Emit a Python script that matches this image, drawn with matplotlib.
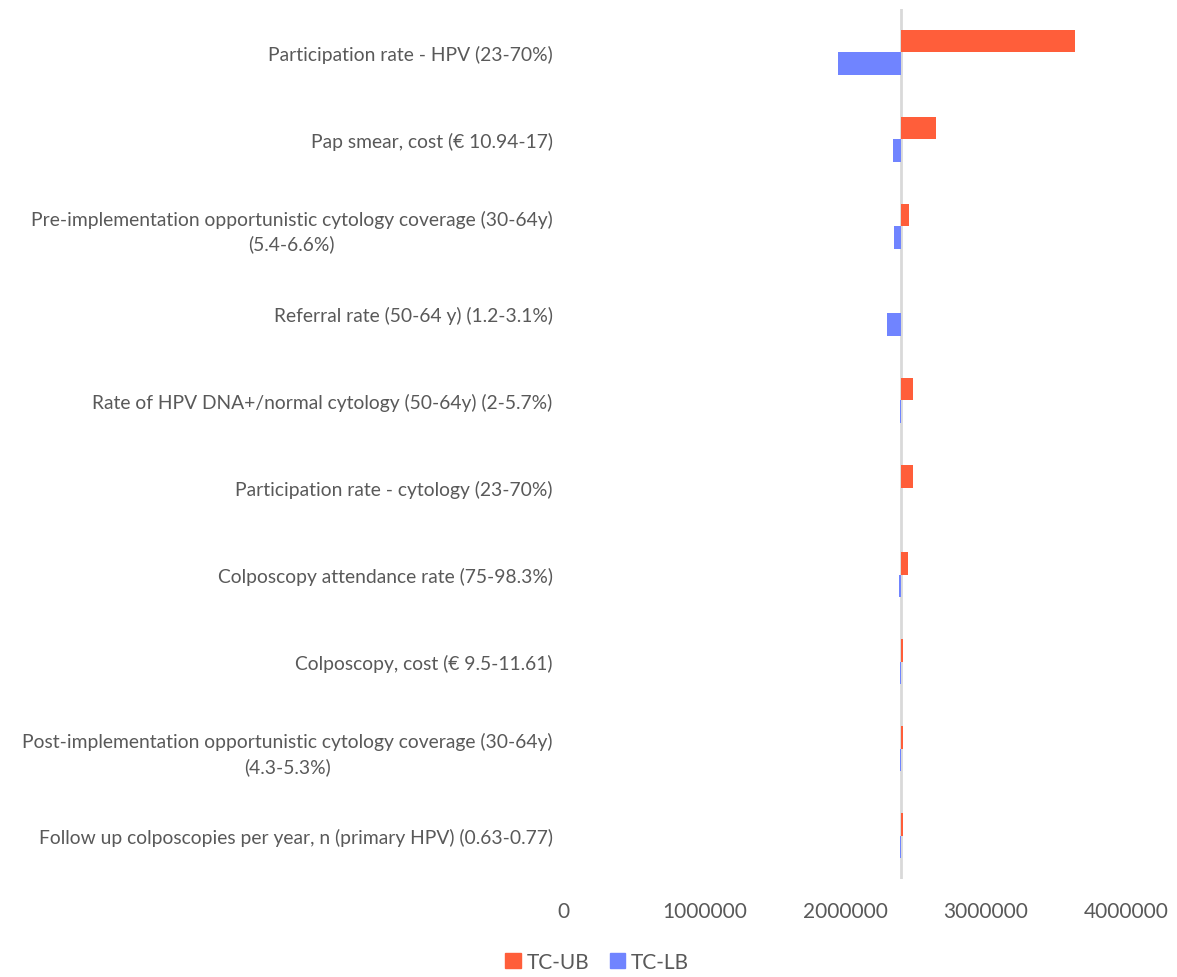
import matplotlib
matplotlib.use("Agg")
import matplotlib.pyplot as plt
import numpy as np
from matplotlib.patches import Patch

plt.rcParams['font.family'] = ['Lato', 'DejaVu Sans']

# Tornado data: total cost at upper / lower bound of each parameter
categories = [
    "Participation rate - HPV (23-70%)",
    "Pap smear, cost (\u20ac 10.94-17)",
    "Pre-implementation opportunistic cytology coverage (30-64y)\n(5.4-6.6%)",
    "Referral rate (50-64 y) (1.2-3.1%)",
    "Rate of HPV DNA+/normal cytology (50-64y) (2-5.7%)",
    "Participation rate - cytology (23-70%)",
    "Colposcopy attendance rate (75-98.3%)",
    "Colposcopy, cost (\u20ac 9.5-11.61)",
    "Post-implementation opportunistic cytology coverage (30-64y)\n(4.3-5.3%)",
    "Follow up colposcopies per year, n (primary HPV) (0.63-0.77)",
]
base_cost = 2400000
tc_ub = [3633000, 2645000, 2455000, 2400000, 2486000, 2480000, 2450000, 2410000, 2410000, 2410000]
tc_lb = [1952000, 2340000, 2345000, 2295000, 2392000, 2400000, 2386000, 2387000, 2392000, 2392000]
xticks = [0, 1000000, 2000000, 3000000, 4000000]

red = "#FF5E3A"
blue = "#7084FF"
grey = "#595959"

fig = plt.figure(figsize=(11.77, 9.78), dpi=100)
ax = fig.add_axes([0.479, 0.100, 0.478, 0.890])

y = np.arange(len(categories))
h = 0.26
ax.barh(y - h / 2, np.array(tc_ub) - base_cost, height=h, left=base_cost, color=red)
ax.barh(y + h / 2, np.array(tc_lb) - base_cost, height=h, left=base_cost, color=blue)
ax.axvline(base_cost, color="#d9d9d9", lw=2, zorder=0)

ax.set_xlim(0, 4000000)
ax.set_ylim(len(categories) - 0.5, -0.5)
ax.set_yticks(y)
ax.set_yticklabels(categories, multialignment="center", linespacing=1.45, fontsize=13.9)
ax.set_xticks(xticks)
ax.set_xticklabels([str(v) for v in xticks], fontsize=15)
ax.tick_params(axis="both", length=0, colors=grey)
ax.tick_params(axis="y", pad=8)
ax.tick_params(axis="x", pad=16)
for s in ax.spines.values():
    s.set_visible(False)

handles = [Patch(color=red, label="TC-UB"), Patch(color=blue, label="TC-LB")]
fig.legend(handles=handles, loc="center", bbox_to_anchor=(597 / 1177, 1 - 963 / 978),
           ncol=2, frameon=False, fontsize=15, labelcolor=grey,
           handlelength=0.75, handleheight=0.75, handletextpad=0.25, columnspacing=1.0)

fig.savefig("out.png", dpi=100)
